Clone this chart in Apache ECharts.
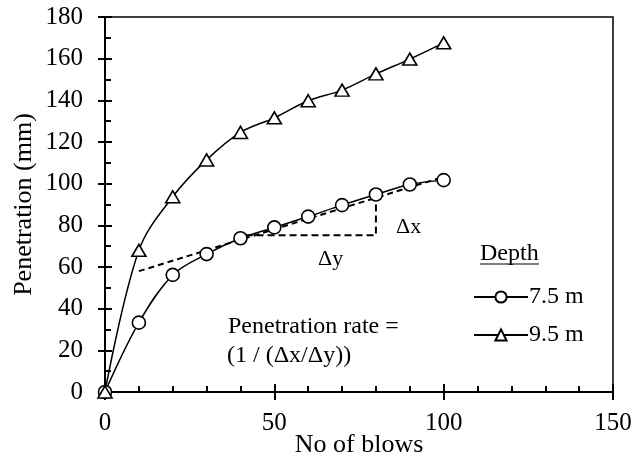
<!DOCTYPE html>
<html><head><meta charset="utf-8">
<script src="https://cdn.jsdelivr.net/npm/echarts@6/dist/echarts.min.js"></script>
<style>html,body{margin:0;padding:0;background:#fff}#c{width:636px;height:457px}</style>
</head><body><div id="c"></div>
<script>
const blows = [0, 10, 20, 30, 40, 50, 60, 70, 80, 90, 100];
const depth75 = [0, 33.3, 56.2, 66.2, 73.8, 79, 84.2, 89.7, 94.8, 99.6, 101.7];
const depth95 = [0, 68, 93.7, 111.4, 124.6, 131.6, 139.8, 144.9, 152.7, 159.8, 167.6];
const tangentLine = [[10, 58], [100, 103.3]];
const deltaLines = [[41.5, 75.3], [80, 75.3], [80, 94]];
const seriesNames = ['7.5 m', '9.5 m'];
const FONT = 'Liberation Serif';

const chart = echarts.init(document.getElementById('c'));
const pair = (xs, ys) => xs.map((x, i) => [x, ys[i]]);
const baseAxisX = {
  type: 'value', min: 0, max: 150, interval: 50, position: 'bottom',
  axisLine: { show: true, lineStyle: { color: '#000', width: 2 } },
  splitLine: { show: false }
};
const baseAxisY = {
  type: 'value', min: 0, max: 180, interval: 20, position: 'left',
  axisLine: { show: true, lineStyle: { color: '#000', width: 2 } },
  splitLine: { show: false }
};
chart.setOption({
  animation: false,
  backgroundColor: '#fff',
  grid: { left: 105, top: 17, right: 23, bottom: 65, show: true, borderColor: '#000', borderWidth: 1.5,
          containLabel: false, outerBoundsMode: 'none' },
  xAxis: [
    Object.assign({}, baseAxisX, {
      name: 'No of blows', nameLocation: 'middle', nameGap: 40, nameMoveOverlap: false,
      nameTextStyle: { fontFamily: FONT, fontSize: 26, color: '#000' },
      axisTick: { show: true, inside: false, length: 8, lineStyle: { color: '#000', width: 2 } },
      axisLabel: { fontFamily: FONT, fontSize: 25, color: '#000', margin: 19 }
    }),
    Object.assign({}, baseAxisX, {
      axisTick: { show: true, inside: true, length: 8, lineStyle: { color: '#000', width: 2 } },
      minorTick: { show: true, splitNumber: 5, length: 6, lineStyle: { color: '#000', width: 2 } },
      axisLabel: { show: false }
    })
  ],
  yAxis: [
    Object.assign({}, baseAxisY, {
      name: 'Penetration (mm)', nameLocation: 'middle', nameGap: 68, nameMoveOverlap: false,
      nameTextStyle: { fontFamily: FONT, fontSize: 26, color: '#000' },
      axisTick: { show: true, inside: false, length: 7, lineStyle: { color: '#000', width: 2 } },
      axisLabel: { fontFamily: FONT, fontSize: 25, color: '#000', margin: 22 }
    }),
    Object.assign({}, baseAxisY, {
      axisTick: { show: true, inside: true, length: 7, lineStyle: { color: '#000', width: 2 } },
      minorTick: { show: true, splitNumber: 2, length: 6, lineStyle: { color: '#000', width: 2 } },
      axisLabel: { show: false }
    })
  ],
  legend: {
    orient: 'vertical', left: 468, top: 280, itemGap: 14,
    itemWidth: 54, itemHeight: 14,
    data: seriesNames,
    textStyle: { fontFamily: FONT, fontSize: 24, color: '#000', padding: [0, 0, 0, -4] }
  },
  graphic: [
    { type: 'text', left: 480, top: 242, style: { text: 'Depth', font: '24px "Liberation Serif"', fill: '#000' } },
    { type: 'line', shape: { x1: 480, y1: 264, x2: 539, y2: 264 }, style: { stroke: '#000', lineWidth: 1.2 } },
    { type: 'text', left: 396, top: 216, style: { text: '\u0394x', font: '22px "Liberation Serif"', fill: '#000' } },
    { type: 'text', left: 318, top: 248, style: { text: '\u0394y', font: '22px "Liberation Serif"', fill: '#000' } },
    { type: 'text', left: 228, top: 315, style: { text: 'Penetration rate =', font: '24px "Liberation Serif"', fill: '#000' } },
    { type: 'text', left: 227, top: 344, style: { text: '(1 / (\u0394x/\u0394y))', font: '24px "Liberation Serif"', fill: '#000' } }
  ],
  series: [
    {
      name: 'tangent', type: 'line', data: tangentLine, symbol: 'none', z: 1,
      lineStyle: { color: '#000', width: 2, type: [6, 4] }, silent: true
    },
    {
      name: 'delta', type: 'line', data: deltaLines, symbol: 'none', z: 1,
      lineStyle: { color: '#000', width: 2, type: [7, 4] }, silent: true
    },
    {
      name: seriesNames[0], type: 'line', data: pair(blows, depth75), smooth: 0.35,
      symbol: 'circle', symbolSize: 13, z: 3,
      lineStyle: { color: '#000', width: 1.5 },
      itemStyle: { color: '#fff', borderColor: '#000', borderWidth: 1.6 }
    },
    {
      name: seriesNames[1], type: 'line', data: pair(blows, depth95), smooth: 0.35,
      symbol: 'triangle', symbolSize: [14, 12], z: 3,
      lineStyle: { color: '#000', width: 1.5 },
      itemStyle: { color: '#fff', borderColor: '#000', borderWidth: 1.6 }
    }
  ]
});
</script></body></html>
